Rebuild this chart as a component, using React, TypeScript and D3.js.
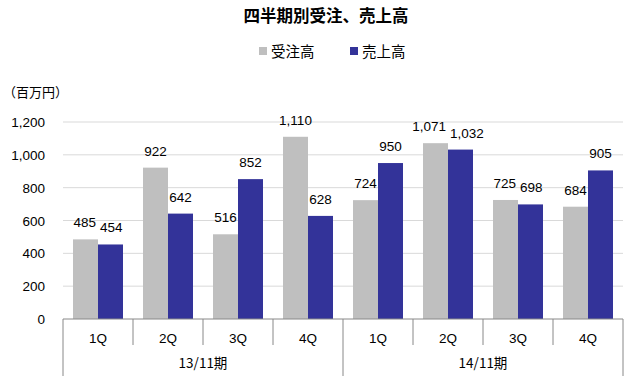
import React from "react";
import * as d3 from "d3";

const quarters = ["1Q", "2Q", "3Q", "4Q", "1Q", "2Q", "3Q", "4Q"];
const periods = ["13/11期", "14/11期"];
const orders = [485, 922, 516, 1110, 724, 1071, 725, 684];
const sales = [454, 642, 852, 628, 950, 1032, 698, 905];
const yTicks = [0, 200, 400, 600, 800, 1000, 1200];
const seriesNames = ["受注高", "売上高"];
const colors = ["#BFBFBF", "#333399"];

const W = 629, H = 380;
const left = 63, right = 623, top = 122, bottom = 319;
const font = "'Noto Sans CJK JP', 'Liberation Sans', sans-serif";
const numFont = "'Liberation Sans', Arial, sans-serif";
const labelSize = 13.5;

function textWidth(s: string, size: number) {
  let w = 0;
  for (const c of s) w += c === "," ? 0.278 : 0.556;
  return w * size;
}

export default function App() {
  const x = d3.scaleBand<number>().domain(d3.range(quarters.length)).range([left, right]).paddingInner(0).paddingOuter(0);
  const inner = d3.scaleBand<number>().domain([0, 1]).range([0, x.bandwidth()]).paddingOuter(0.4).paddingInner(0);
  const y = d3.scaleLinear().domain([0, 1200]).range([bottom, top]);
  const fmt = d3.format(",");
  const series = [orders, sales];
  const bw = inner.bandwidth();

  // label positions with simple horizontal collision avoidance
  const labels = quarters.map((_, i) => {
    const items = series.map((vals, s) => {
      const v = vals[i];
      const cx = (x(i) as number) + (inner(s) as number) + bw / 2;
      return { s, v, text: fmt(v), cx, by: y(v) - 12, w: textWidth(fmt(v), labelSize) };
    });
    const [a, b] = items;
    const gap = (b.cx - b.w / 2) - (a.cx + a.w / 2);
    const vOverlap = Math.abs(a.by - b.by) < 12;
    if (vOverlap && gap < 4) {
      const push = (4 - gap) / 2;
      a.cx -= push;
      b.cx += push;
    }
    return items;
  });

  return (
    <svg width={W} height={H} style={{ position: "absolute", left: 0, top: 0 }} fontFamily={font}>
      <rect width={W} height={H} fill="#fff" />
      <text x={326} y={22} textAnchor="middle" fontSize={16.5} fontWeight="bold">四半期別受注、売上高</text>
      {seriesNames.map((n, i) => (
        <g key={n} transform={`translate(${[259, 350][i]},0)`}>
          <rect x={0} y={47} width={8} height={8} fill={colors[i]} />
          <text x={12} y={57} fontSize={14.5}>{n}</text>
        </g>
      ))}
      <text x={3} y={97} fontSize={13}>（百万円）</text>
      {yTicks.map((t) => (
        <g key={t}>
          {t > 0 && <line x1={left} x2={right} y1={y(t)} y2={y(t)} stroke="#D9D9D9" />}
          <text x={45} y={y(t) + 5} textAnchor="end" fontSize={13.5} fontFamily={numFont}>{fmt(t)}</text>
        </g>
      ))}
      {series.map((vals, s) =>
        vals.map((v, i) => {
          const bx = (x(i) as number) + (inner(s) as number);
          return <rect key={`${s}-${i}`} x={bx} y={y(v)} width={bw} height={bottom - y(v)} fill={colors[s]} />;
        })
      )}
      {labels.map((items, i) =>
        items.map((l) => (
          <text key={`${i}-${l.s}`} x={l.cx} y={l.by} textAnchor="middle" fontSize={labelSize} fontFamily={numFont}>{l.text}</text>
        ))
      )}
      <line x1={left} x2={right} y1={bottom} y2={bottom} stroke="#888" />
      {d3.range(quarters.length + 1).map((i) => {
        const xx = i < quarters.length ? (x(i) as number) : right;
        const isGroup = i % 4 === 0;
        return <line key={i} x1={xx} x2={xx} y1={bottom} y2={isGroup ? 376 : 345} stroke="#888" />;
      })}
      {quarters.map((q, i) => (
        <text key={i} x={(x(i) as number) + x.bandwidth() / 2} y={343} textAnchor="middle" fontSize={13.5} fontFamily={numFont}>{q}</text>
      ))}
      {periods.map((p, g) => (
        <text key={p} x={(x(g * 4) as number) + x.bandwidth() * 2} y={368} textAnchor="middle" fontSize={13.5}>{p}</text>
      ))}
    </svg>
  );
}
